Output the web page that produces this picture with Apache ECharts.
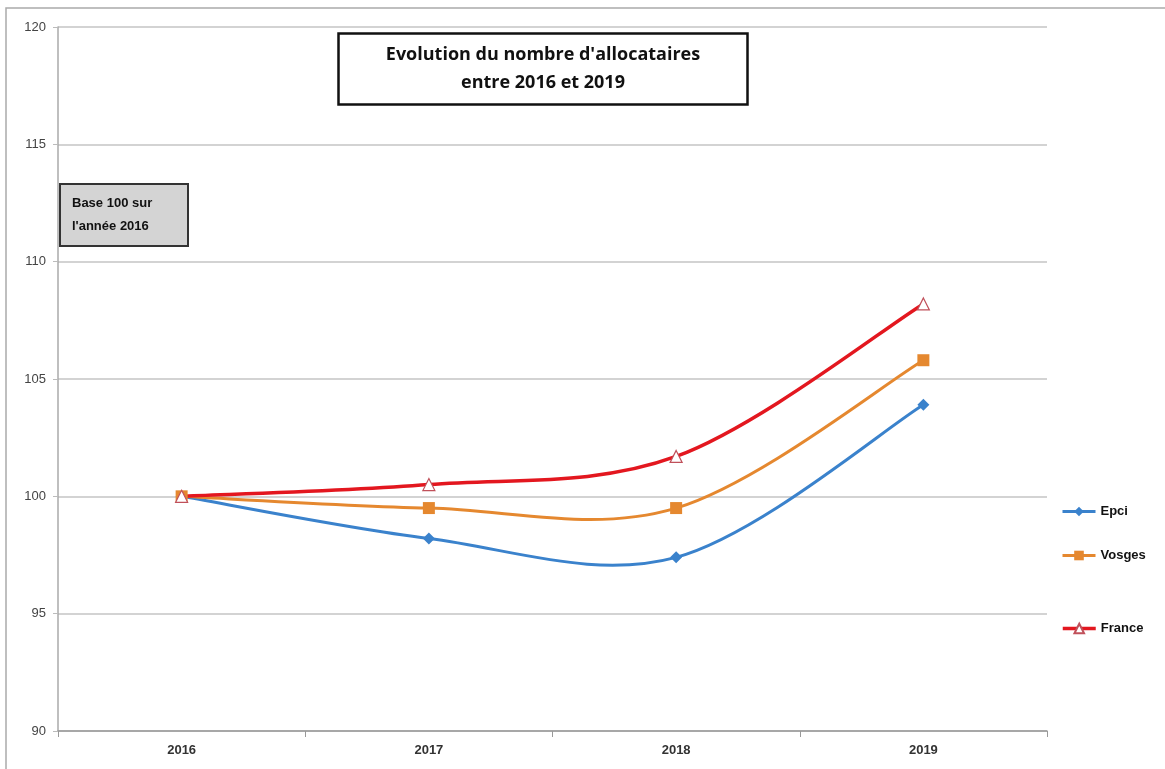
<!DOCTYPE html>
<html>
<head>
<meta charset="utf-8">
<script src="https://cdn.jsdelivr.net/npm/echarts@6/dist/echarts.min.js"></script>
<style>
  html, body { margin: 0; padding: 0; background: #fff; }
  #chart { width: 1165px; height: 769px; }
</style>
</head>
<body>
<div id="chart"></div>
<script>
const years = ["2016", "2017", "2018", "2019"]
const epci = [100, 98.2, 97.4, 103.9]
const vosges = [100, 99.5, 99.5, 105.8]
const france = [100, 100.5, 101.7, 108.2]

const myChart = echarts.init(document.getElementById("chart"))

const labelFont = "'Liberation Sans Narrow', 'Liberation Sans', sans-serif"
const titleLines = ["Evolution du nombre d'allocataires", "entre 2016 et 2019"]
const noteLines = ["Base 100 sur", "l'année 2016"]

// measure text so the boxes get the width of the scan
const measure = (font, lines) => {
  const ctx = document.createElement("canvas").getContext("2d")
  ctx.font = font
  return Math.max(...lines.map((l) => ctx.measureText(l).width))
}
const titleW = measure("bold 18px 'Open Sans'", titleLines)
const titlePad = Math.max(10, (410 - titleW) / 2)
const noteW = measure("bold 13px Arial", noteLines)

// smooth curve like the spreadsheet one (control points at 1/6, may overshoot)
const smoothSeg = (vals, color, width) => (params, api) => {
  const i = params.dataIndex
  if (i === 0) return
  const n = vals.length
  const pt = (k) => api.coord([Math.max(0, Math.min(n - 1, k)), vals[Math.max(0, Math.min(n - 1, k))]])
  const p0 = pt(i - 2), p1 = pt(i - 1), p2 = pt(i), p3 = pt(i + 1)
  return {
    type: "bezierCurve",
    shape: {
      x1: p1[0], y1: p1[1],
      cpx1: p1[0] + (p2[0] - p0[0]) / 6, cpy1: p1[1] + (p2[1] - p0[1]) / 6,
      cpx2: p2[0] - (p3[0] - p1[0]) / 6, cpy2: p2[1] - (p3[1] - p1[1]) / 6,
      x2: p2[0], y2: p2[1]
    },
    style: { stroke: color, lineWidth: width, fill: null, lineCap: "round" }
  }
}

const legendItem = (name, top, color, width) => ({
  data: [name],
  left: 1056,
  top: top,
  itemWidth: 33,
  itemHeight: 12,
  lineStyle: { color: color, width: width, opacity: 1 },
  textStyle: { color: "#111", fontSize: 13, fontWeight: "bold", fontFamily: "Arial, sans-serif" }
})

const markerSeries = (name, data, color, symbol, size, itemStyle) => ({
  name: name,
  type: "line",
  data: data,
  z: 4,
  color: color,
  symbol: symbol,
  symbolSize: size,
  lineStyle: { opacity: 0 },
  itemStyle: itemStyle
})

const curveSeries = (name, data, color, width) => ({
  name: name,
  type: "custom",
  z: 2,
  data: data.map((v, i) => [i, v]),
  renderItem: smoothSeg(data, color, width)
})

const option = {
  backgroundColor: "#fff",
  animation: false,
  title: [
    {
      text: titleLines.join("\n"),
      left: 543 - titlePad,
      top: 33,
      textAlign: "center",
      padding: [8, titlePad, 8, titlePad],
      borderColor: "#111",
      borderWidth: 2.5,
      backgroundColor: "#fff",
      textStyle: { fontSize: 18, fontWeight: "bold", lineHeight: 28, color: "#111", fontFamily: "'Open Sans', sans-serif" }
    },
    {
      text: noteLines.join("\n"),
      left: 60,
      top: 184,
      padding: [8, 128 - 12 - noteW, 8, 12],
      borderColor: "#333",
      borderWidth: 2,
      backgroundColor: "#d4d4d4",
      textStyle: { fontSize: 13, fontWeight: "bold", lineHeight: 23, color: "#111", fontFamily: "Arial, sans-serif" }
    }
  ],
  legend: [
    legendItem("Epci", 500, "#3a82cc", 3),
    legendItem("Vosges", 544, "#e5882f", 3),
    legendItem("France", 617, "#e3171f", 3.5)
  ],
  grid: { left: 58, right: 118, top: 27, bottom: 38 },
  xAxis: {
    type: "category",
    data: years,
    boundaryGap: true,
    axisLine: { lineStyle: { color: "#999", width: 1.5 } },
    axisTick: { show: true, length: 6, lineStyle: { color: "#999" } },
    axisLabel: { margin: 13, fontSize: 13, fontWeight: "bold", color: "#333", fontFamily: labelFont }
  },
  yAxis: {
    type: "value",
    min: 90,
    max: 120,
    interval: 5,
    axisLine: { show: true, lineStyle: { color: "#aaa", width: 1.5 } },
    axisTick: { show: true, length: 5, lineStyle: { color: "#bbb" } },
    axisLabel: { margin: 12, fontSize: 13, color: "#444", fontFamily: labelFont },
    splitLine: { lineStyle: { color: "#c4c4c4", width: 1.5 } }
  },
  graphic: [
    {
      type: "rect",
      silent: true,
      z: -1,
      shape: { x: 6, y: 8, width: 1300, height: 900 },
      style: { fill: "none", stroke: "#aaa", lineWidth: 1.5 }
    }
  ],
  series: [
    markerSeries("Epci", epci, "#3a82cc", "diamond", 12, { color: "#3a82cc" }),
    markerSeries("Vosges", vosges, "#e5882f", "rect", 12, { color: "#e5882f" }),
    markerSeries("France", france, "#e3171f", "triangle", 12, { color: "#fff", borderColor: "#c0505a", borderWidth: 1.2 }),
    curveSeries("Epci", epci, "#3a82cc", 3),
    curveSeries("Vosges", vosges, "#e5882f", 3),
    curveSeries("France", france, "#e3171f", 3.5)
  ]
}

myChart.setOption(option)
window.addEventListener("resize", () => {
  myChart.resize()
})
</script>
</body>
</html>
